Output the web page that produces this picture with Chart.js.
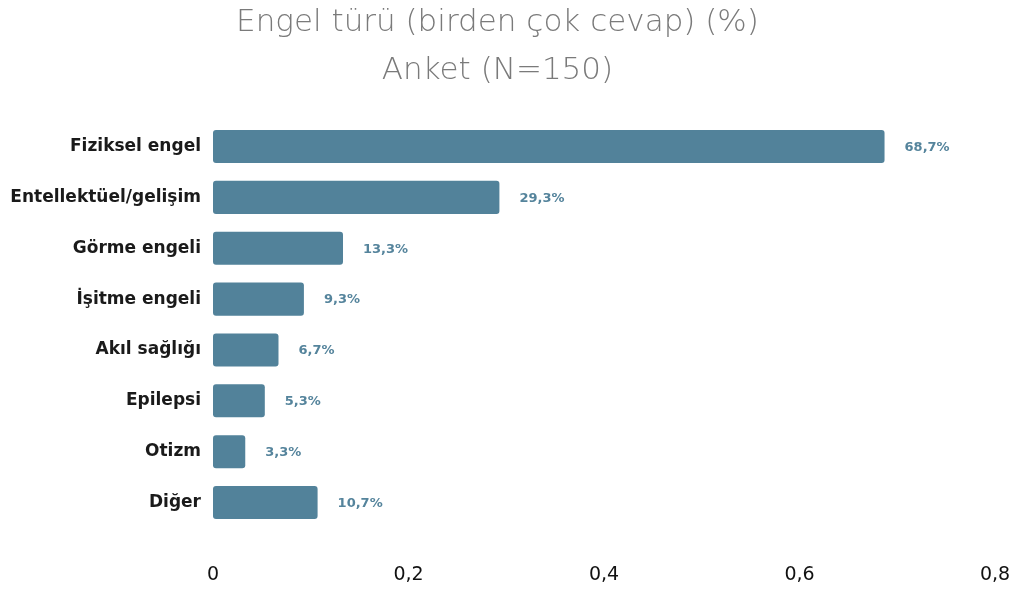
<!DOCTYPE html>
<html>
<head>
<meta charset="utf-8">
<script src="https://cdn.jsdelivr.net/npm/chart.js@4/dist/chart.umd.min.js"></script>
<style>
  html, body { margin: 0; padding: 0; background: #fff; }
  #wrap { width: 1019px; height: 592px; }
</style>
</head>
<body>
<div id="wrap"><canvas id="engelChart"></canvas></div>
<script>
// Veriler
const categories = ['Fiziksel engel', 'Entellektüel/gelişim', 'Görme engeli', 'İşitme engeli', 'Akıl sağlığı', 'Epilepsi', 'Otizm', 'Diğer'];
const shares = [0.687, 0.293, 0.133, 0.093, 0.067, 0.053, 0.033, 0.107];
const xTicks = [0, 0.2, 0.4, 0.6, 0.8];

const barColor = '#52829a';

function trNumber(v, digits) {
    return v.toFixed(digits).replace('.', ',');
}

// Değer etiketleri (çubuğun sağında)
const valueLabels = {
    id: 'valueLabels',
    afterDatasetsDraw(chart) {
        const ctx = chart.ctx;
        const meta = chart.getDatasetMeta(0);
        ctx.save();
        ctx.font = 'bold 13px "DejaVu Sans", sans-serif';
        ctx.fillStyle = '#55849c';
        ctx.textBaseline = 'middle';
        ctx.textAlign = 'left';
        meta.data.forEach(function(bar, i) {
            const txt = trNumber(shares[i] * 100, 1) + '%';
            ctx.fillText(txt, bar.x + 20, bar.y + 1);
        });
        ctx.restore();
    }
};

new Chart(document.getElementById('engelChart'), {
    type: 'bar',
    data: {
        labels: categories,
        datasets: [{
            data: shares,
            backgroundColor: barColor,
            borderRadius: 3,
            borderSkipped: false,
            categoryPercentage: 1,
            barPercentage: 0.65
        }]
    },
    options: {
        indexAxis: 'y',
        responsive: true,
        maintainAspectRatio: false,
        animation: false,
        layout: { padding: { left: 0, right: 24, top: 0, bottom: 4 } },
        plugins: {
            legend: { display: false },
            tooltip: { enabled: false },
            title: {
                display: true,
                text: ['Engel türü (birden çok cevap) (%)', 'Anket (N=150)'],
                color: '#7a7a7a',
                font: { family: '"DejaVu Sans", sans-serif', size: 31, weight: 300, lineHeight: 1.55 },
                padding: { top: -1, bottom: 26 }
            }
        },
        scales: {
            x: {
                min: 0,
                max: 0.8,
                afterBuildTicks(scale) {
                    scale.ticks = xTicks.map(v => ({ value: v }));
                },
                afterFit(scale) {
                    scale.height = 60;
                    scale.paddingRight = 4;
                },
                ticks: {
                    color: '#111',
                    font: { family: '"DejaVu Sans", sans-serif', size: 19 },
                    padding: 36,
                    maxRotation: 0,
                    callback: v => v === 0 ? '0' : trNumber(v, 1)
                },
                grid: { display: false, drawTicks: false },
                border: { display: false }
            },
            y: {
                afterFit(scale) { scale.width = 213; },
                ticks: {
                    color: '#1a1a1a',
                    font: { family: '"DejaVu Sans", sans-serif', size: 17, weight: 'bold' },
                    padding: 12
                },
                grid: { display: false, drawTicks: false },
                border: { display: false }
            }
        }
    },
    plugins: [valueLabels]
});
</script>
</body>
</html>
